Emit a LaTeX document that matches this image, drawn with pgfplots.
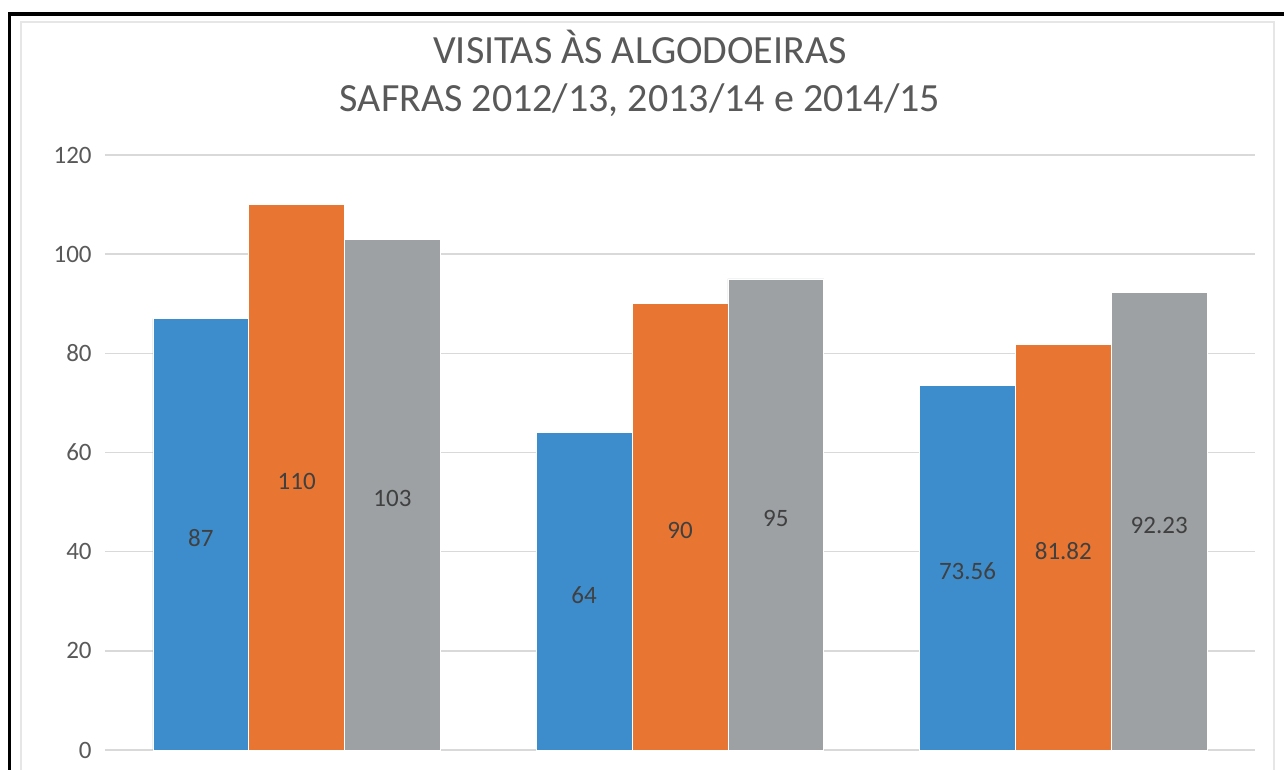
\documentclass[border=0pt]{standalone}
\usepackage{pgfplots}
\pgfplotsset{compat=1.18}
\usepackage{pgfplotstable}
\usepackage{fontspec}
\setmainfont{Carlito}
\definecolor{cblue}{RGB}{61,141,205}
\definecolor{corange}{RGB}{232,118,50}
\definecolor{cgray}{RGB}{157,161,164}
\definecolor{gridgray}{RGB}{217,217,217}
\definecolor{txtgray}{RGB}{89,89,89}
\definecolor{lblgray}{RGB}{64,64,64}
\definecolor{framegray}{RGB}{230,230,230}

\pgfplotstableread{
x v lbl
0 87 87
1 64 64
2 73.56 73.56
}\tblue
\pgfplotstableread{
x v lbl
0 110 110
1 90 90
2 81.82 81.82
}\torange
\pgfplotstableread{
x v lbl
0 103 103
1 95 95
2 92.23 92.23
}\tgray

\begin{document}
\begin{tikzpicture}
\useasboundingbox (-52.5pt,-10pt) rectangle (589.5pt,375pt);
\fill[white] (-52.5pt,-10pt) rectangle (589.5pt,375pt);
\draw[framegray, line width=0.6pt] (-42pt,-12pt) -- (-42pt,364pt) -- (584.5pt,364pt) -- (584.5pt,-12pt);
\draw[black, line width=1.6pt] (-47.8pt,-12pt) -- (-47.8pt,368pt) -- (592pt,368pt);
\begin{axis}[
  at={(0,0)}, anchor=south west,
  scale only axis, width=575pt, height=297.5pt,
  xmin=-0.5, xmax=2.5, ymin=0, ymax=120,
  ytick={0,20,...,120}, xtick=\empty,
  ymajorgrids, grid style={color=gridgray, line width=0.75pt},
  axis line style={draw=none},
  major tick length=0pt,
  /pgf/number format/assume math mode=true,
  yticklabel style={font=\fontsize{12.5pt}{14pt}\selectfont, color=txtgray, inner sep=0pt, xshift=-6.5pt},
  clip=false,
  nodes near coords style={font=\fontsize{12.5pt}{14pt}\selectfont, color=lblgray, anchor=center, yshift=-2pt},
]
\addplot[ybar, bar width=0.25, bar shift=-0.25, fill=cblue, draw=white, line width=0.4pt] table[x=x, y=v]{\tblue};
\addplot[ybar, bar width=0.25, bar shift=0, fill=corange, draw=white, line width=0.4pt] table[x=x, y=v]{\torange};
\addplot[ybar, bar width=0.25, bar shift=0.25, fill=cgray, draw=white, line width=0.4pt] table[x=x, y=v]{\tgray};
\addplot[only marks, mark=none, nodes near coords, point meta=explicit symbolic] table[x expr=\thisrow{x}-0.25, y expr=\thisrow{v}/2, meta=lbl]{\tblue};
\addplot[only marks, mark=none, nodes near coords, point meta=explicit symbolic] table[x expr=\thisrow{x}, y expr=\thisrow{v}/2, meta=lbl]{\torange};
\addplot[only marks, mark=none, nodes near coords, point meta=explicit symbolic] table[x expr=\thisrow{x}+0.25, y expr=\thisrow{v}/2, meta=lbl]{\tgray};
\end{axis}
\node[font=\fontsize{20pt}{24pt}\selectfont, color=txtgray] at (267.5pt,351.5pt) {VISITAS ÀS ALGODOEIRAS};
\node[font=\fontsize{20pt}{24pt}\selectfont, color=txtgray] at (267.5pt,325pt) {SAFRAS 2012/13, 2013/14 e 2014/15};
\end{tikzpicture}
\end{document}
